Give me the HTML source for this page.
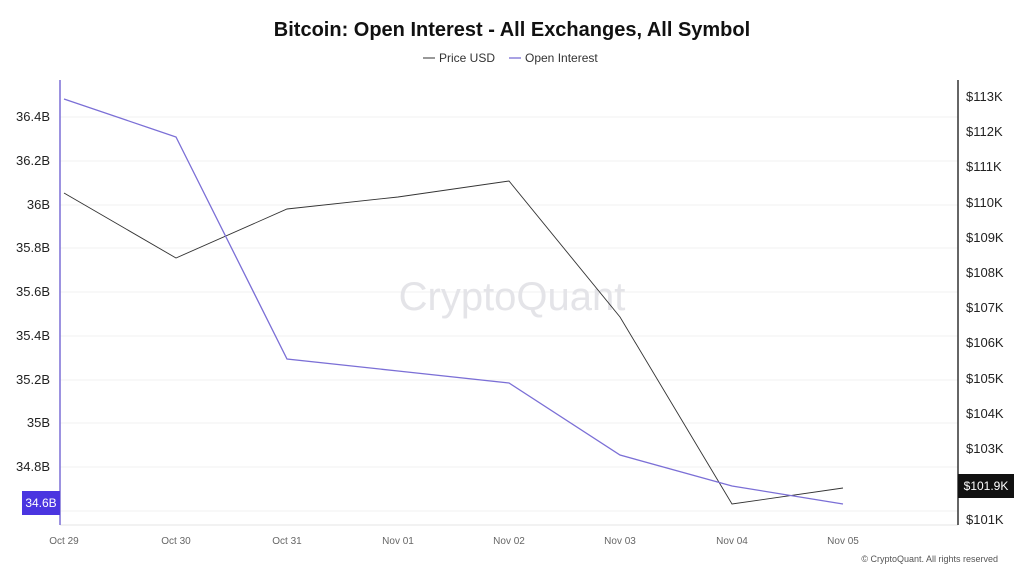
<!DOCTYPE html>
<html><head><style>
body{margin:0;background:#fff;font-family:"Liberation Sans",sans-serif}
</style></head><body>
<svg width="1024" height="576" viewBox="0 0 1024 576" xmlns="http://www.w3.org/2000/svg" font-family="Liberation Sans, sans-serif">
<rect width="1024" height="576" fill="#fff"/>
<text x="512" y="36" text-anchor="middle" font-size="20" font-weight="bold" fill="#111">Bitcoin: Open Interest - All Exchanges, All Symbol</text>
<line x1="423" y1="58" x2="435" y2="58" stroke="#333" stroke-width="1"/>
<text x="439" y="62" font-size="12" fill="#333">Price USD</text>
<line x1="509" y1="58" x2="521" y2="58" stroke="#7b6fd6" stroke-width="1.3"/>
<text x="525" y="62" font-size="12" fill="#333">Open Interest</text>
<g stroke="#f0f0f0" stroke-width="1">
<line x1="60" y1="117" x2="958" y2="117"/><line x1="60" y1="161" x2="958" y2="161"/>
<line x1="60" y1="205" x2="958" y2="205"/><line x1="60" y1="248" x2="958" y2="248"/>
<line x1="60" y1="292" x2="958" y2="292"/><line x1="60" y1="336" x2="958" y2="336"/>
<line x1="60" y1="380" x2="958" y2="380"/><line x1="60" y1="423" x2="958" y2="423"/>
<line x1="60" y1="467" x2="958" y2="467"/><line x1="60" y1="511" x2="958" y2="511"/>
</g>
<line x1="60" y1="525" x2="958" y2="525" stroke="#e6e6e6"/>
<text x="512" y="310" text-anchor="middle" font-size="40" fill="#e4e4e8">CryptoQuant</text>
<line x1="60" y1="80" x2="60" y2="525" stroke="#7b6fd6" stroke-width="1.5"/>
<line x1="958" y1="80" x2="958" y2="525" stroke="#333" stroke-width="1.5"/>
<g font-size="13" fill="#222" text-anchor="end">
<text x="50" y="121">36.4B</text><text x="50" y="165">36.2B</text><text x="50" y="209">36B</text>
<text x="50" y="252">35.8B</text><text x="50" y="296">35.6B</text><text x="50" y="340">35.4B</text>
<text x="50" y="384">35.2B</text><text x="50" y="427">35B</text><text x="50" y="471">34.8B</text>
</g>
<rect x="22" y="491" width="38" height="24" fill="#4a35e0"/>
<text x="41" y="507" text-anchor="middle" font-size="12" fill="#fff">34.6B</text>
<g font-size="13" fill="#222">
<text x="966" y="101">$113K</text><text x="966" y="136">$112K</text><text x="966" y="171">$111K</text>
<text x="966" y="207">$110K</text><text x="966" y="242">$109K</text><text x="966" y="277">$108K</text>
<text x="966" y="312">$107K</text><text x="966" y="347">$106K</text><text x="966" y="383">$105K</text>
<text x="966" y="418">$104K</text><text x="966" y="453">$103K</text><text x="966" y="524">$101K</text>
</g>
<rect x="958" y="474" width="56" height="24" fill="#111"/>
<text x="986" y="490" text-anchor="middle" font-size="12" fill="#fff">$101.9K</text>
<g font-size="10" fill="#666" text-anchor="middle">
<text x="64" y="544">Oct 29</text><text x="176" y="544">Oct 30</text><text x="287" y="544">Oct 31</text>
<text x="398" y="544">Nov 01</text><text x="509" y="544">Nov 02</text><text x="620" y="544">Nov 03</text>
<text x="732" y="544">Nov 04</text><text x="843" y="544">Nov 05</text>
</g>
<text x="998" y="562" text-anchor="end" font-size="9" fill="#555">© CryptoQuant. All rights reserved</text>
<polyline fill="none" stroke="#333" stroke-width="0.9" points="64,193 176,258 287,209 398,197 509,181 620,317 732,504 843,488"/>
<polyline fill="none" stroke="#7b6fd6" stroke-width="1.3" points="64,99 176,137 287,359 398,371 509,383 620,455 732,486 843,504"/>
</svg>
</body></html>
